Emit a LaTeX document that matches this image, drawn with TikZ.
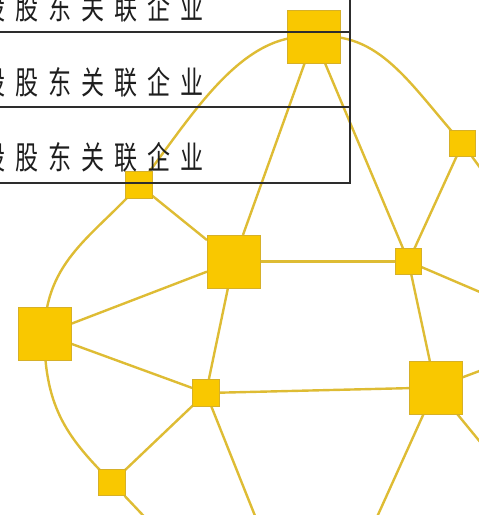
\documentclass[tikz,border=0pt]{standalone}
\usepackage{fontspec}
\newfontfamily\cjk{Noto Sans CJK SC}
\usetikzlibrary{backgrounds}
\definecolor{nodefill}{RGB}{249,200,0}
\definecolor{nodeline}{RGB}{214,176,40}
\definecolor{edgecol}{RGB}{222,188,52}
\definecolor{tabline}{RGB}{45,45,45}
\definecolor{txtcol}{RGB}{30,30,30}
\newcommand\ck{\kern13.8pt }
\newcommand\rowtxt{\scalebox{0.72}[1]{控\ck 股\ck 股\ck 东\ck 关\ck 联\ck 企\ck 业}}
\begin{document}
\begin{tikzpicture}[x=1pt,y=-1pt,
  sq/.style={rectangle, fill=nodefill, draw=nodeline, line width=0.7pt, inner sep=0pt, outer sep=0pt},
  big/.style={sq, minimum size=53pt},
  small/.style={sq, minimum size=26.5pt},
  link/.style={draw=edgecol, line width=2.4pt},
  rowtext/.style={anchor=east, inner sep=0pt, text=txtcol, font=\cjk\fontsize{32}{32}\selectfont},
  tab/.style={draw=tabline, line width=1.1pt}
]
\useasboundingbox (0,0) rectangle (479,515);
\clip (0,0) rectangle (479,515);
% nodes
\node[big]   (tb) at (314,37) {};
\node[small] (rt) at (462.5,143.5) {};
\node[small] (ls) at (139,185) {};
\node[big]   (bc) at (233.5,261.5) {};
\node[small] (sr) at (408.5,261.5) {};
\node[big]   (bl) at (44.5,334) {};
\node[small] (sm) at (206,393) {};
\node[big]   (br) at (435.5,387.5) {};
\node[small] (bs) at (112,482.5) {};
% off-canvas ends
\coordinate (o1) at (513,213);
\coordinate (o2) at (550,322);
\coordinate (o3) at (522,355);
\coordinate (o4) at (522,493);
\coordinate (o5) at (349,579);
\coordinate (o6) at (279,576);
\coordinate (o7) at (174,548);
\begin{pgfonlayer}{background}
\draw[link] (tb.center) .. controls (240,30) and (190,120) .. (ls.center);
\draw[link] (tb.center) .. controls (380,30) and (410,85) .. (rt.center);
\draw[link] (tb) -- (bc);
\draw[link] (tb) -- (sr);
\draw[link] (rt) -- (sr);
\draw[link] (rt) -- (o1);
\draw[link] (bc) -- (sr);
\draw[link] (sr) -- (o2);
\draw[link] (sr) -- (br);
\draw[link] (bl) -- (bc);
\draw[link] (bl) -- (sm);
\draw[link] (bl.center) .. controls (45,260) and (95,235) .. (ls.center);
\draw[link] (bl.center) .. controls (44,410) and (70,440) .. (bs.center);
\draw[link] (ls) -- (bc);
\draw[link] (bc) -- (sm);
\draw[link] (sm) -- (br);
\draw[link] (sm) -- (bs);
\draw[link] (sm) -- (o6);
\draw[link] (bs) -- (o7);
\draw[link] (br) -- (o3);
\draw[link] (br) -- (o4);
\draw[link] (br) -- (o5);
\end{pgfonlayer}
% table
\draw[tab] (-2,32) -- (350,32);
\draw[tab] (-2,107) -- (350,107);
\draw[tab] (350,-2) -- (350,183) -- (-2,183);
\node[rowtext] (r1) at (204,7.5) {\rowtxt};
\node[rowtext] (r2) at (204,82.5) {\rowtxt};
\node[rowtext] (r3) at (204,157.5) {\rowtxt};
\end{tikzpicture}
\end{document}
